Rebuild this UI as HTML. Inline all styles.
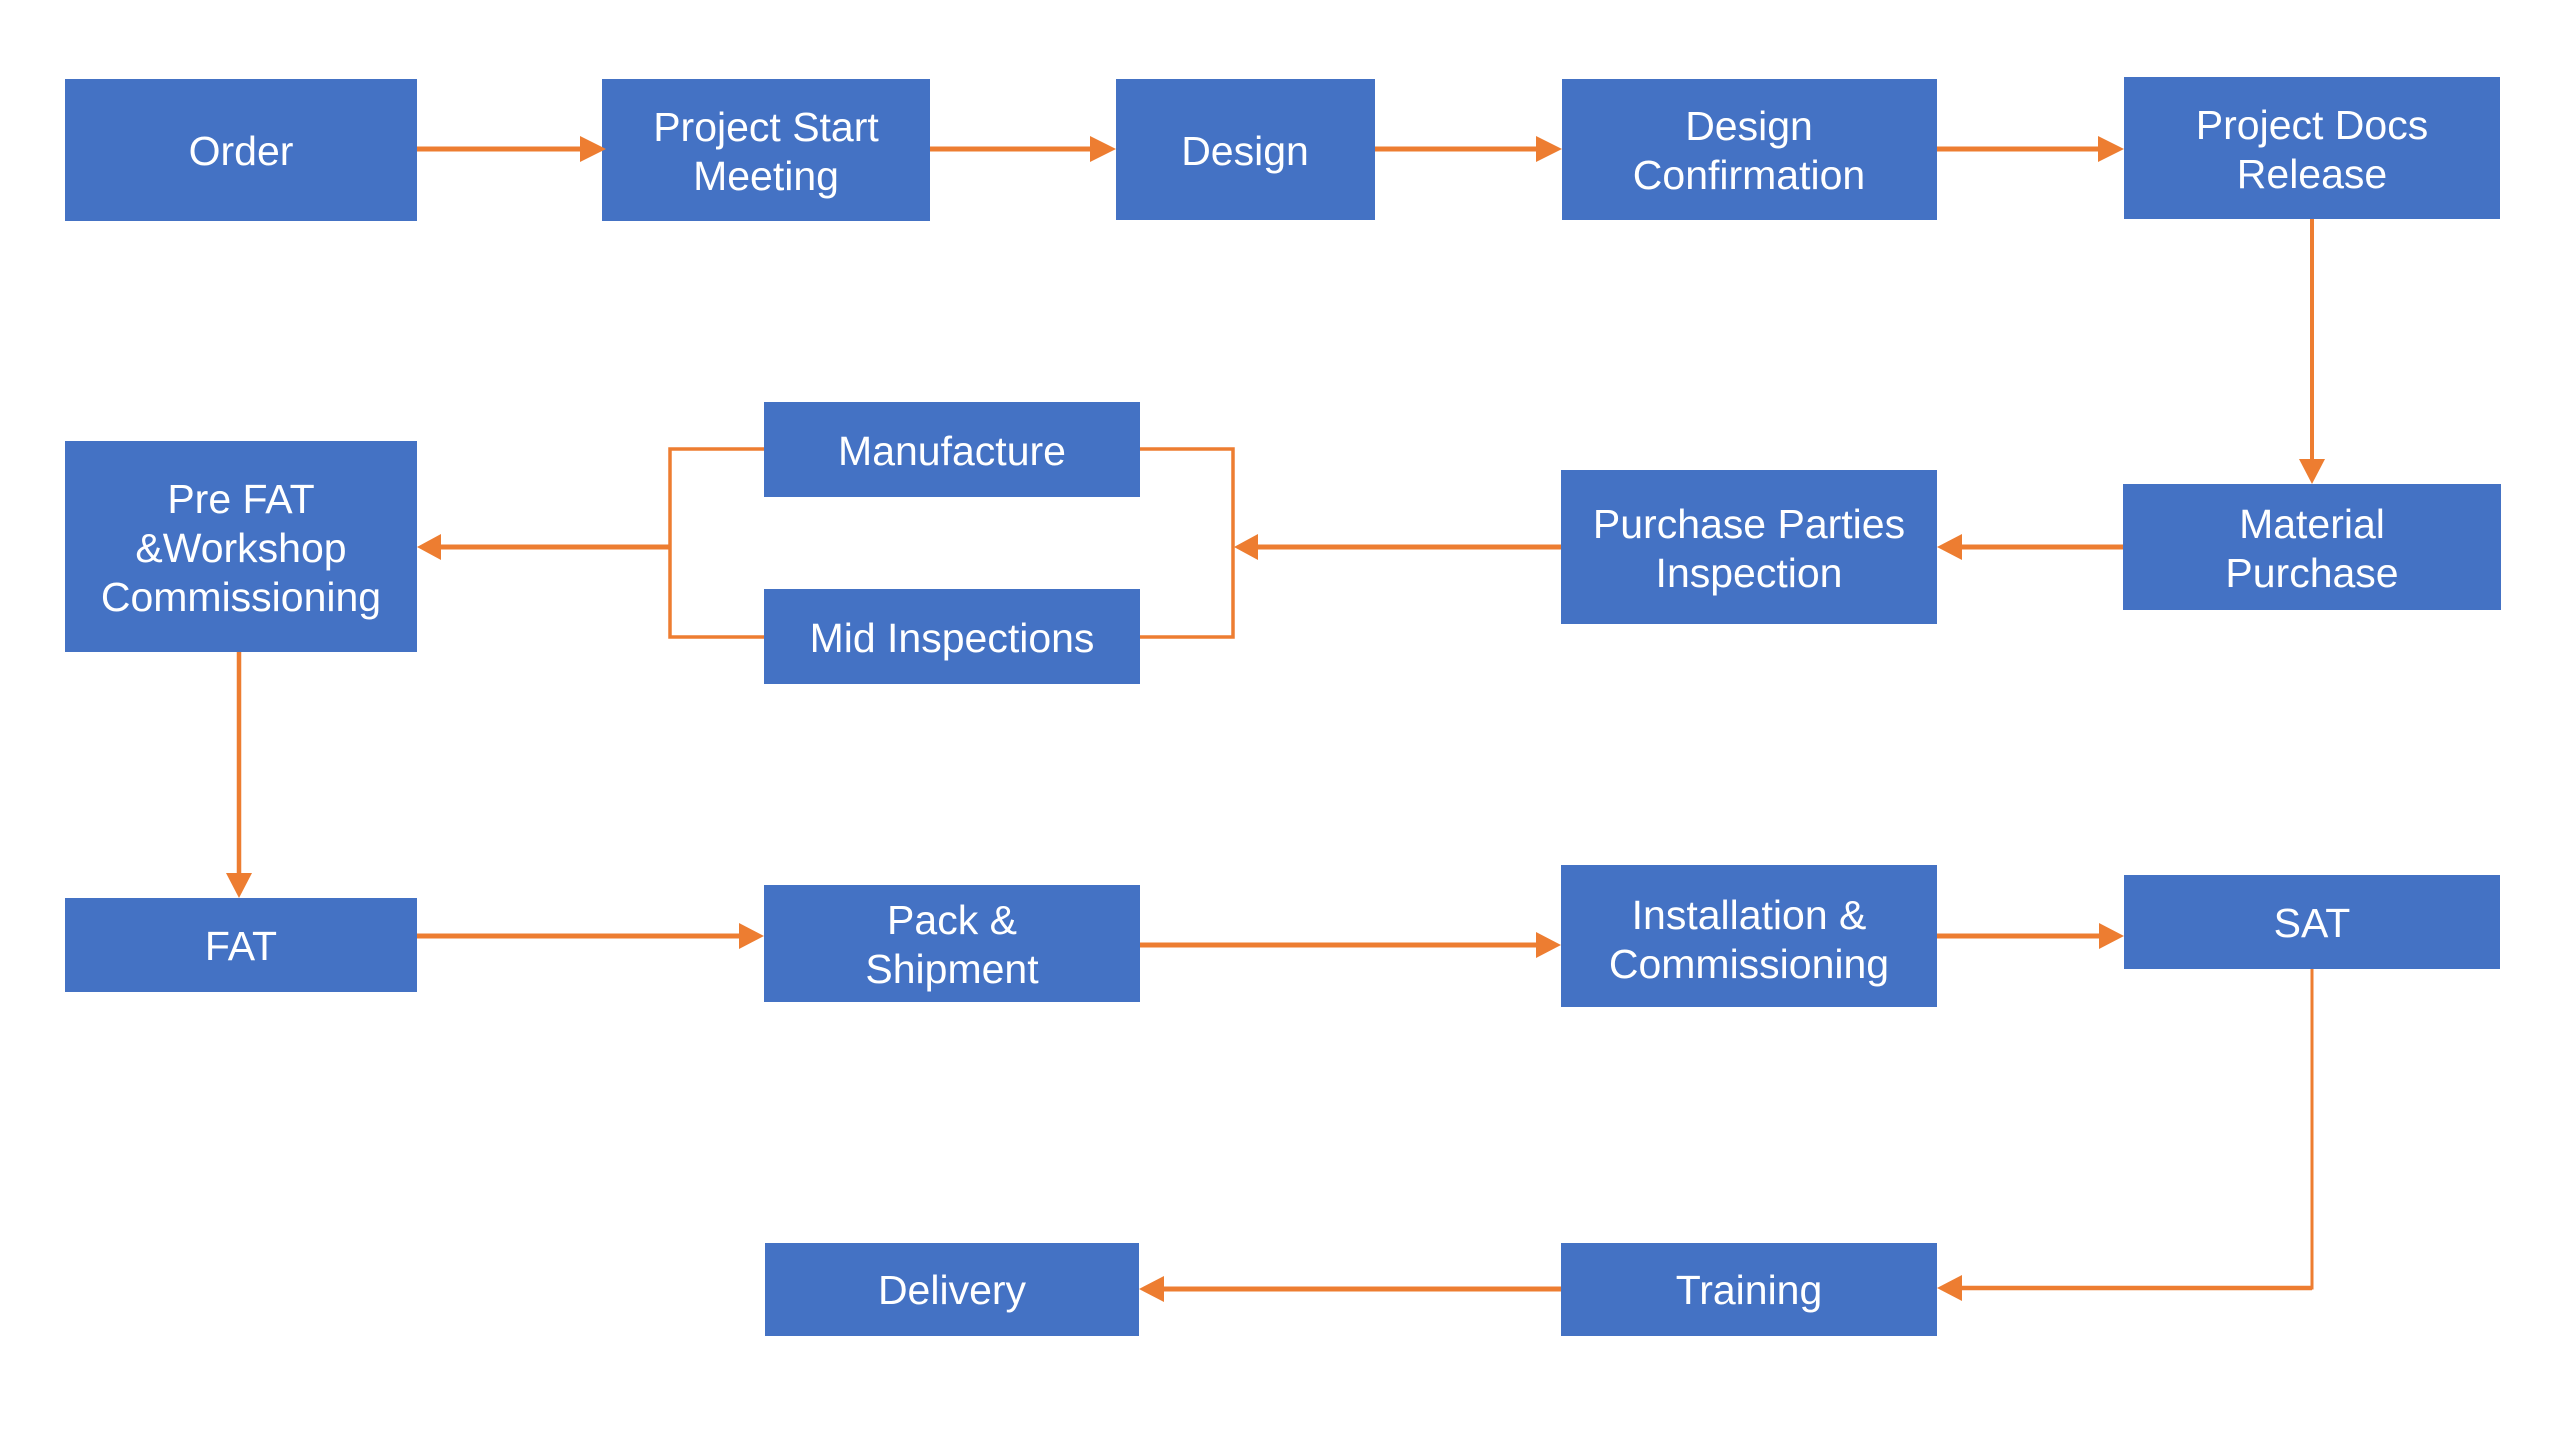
<!DOCTYPE html>
<html>
<head>
<meta charset="utf-8">
<style>
html,body{margin:0;padding:0;background:#fff;}
svg{display:block;}
text{font-family:"Liberation Sans",Arial,sans-serif;font-size:41px;fill:#fff;text-anchor:middle;}
</style>
</head>
<body>
<svg width="2560" height="1429" viewBox="0 0 2560 1429" xmlns="http://www.w3.org/2000/svg">
<rect x="0" y="0" width="2560" height="1429" fill="#fff"/>
<g fill="#4472C4">
  <rect x="65" y="79" width="352" height="142"/>
  <rect x="602" y="79" width="328" height="142"/>
  <rect x="1116" y="79" width="259" height="141"/>
  <rect x="1562" y="79" width="375" height="141"/>
  <rect x="2124" y="77" width="376" height="142"/>
  <rect x="2123" y="484" width="378" height="126"/>
  <rect x="1561" y="470" width="376" height="154"/>
  <rect x="764" y="402" width="376" height="95"/>
  <rect x="764" y="589" width="376" height="95"/>
  <rect x="65" y="441" width="352" height="211"/>
  <rect x="65" y="898" width="352" height="94"/>
  <rect x="764" y="885" width="376" height="117"/>
  <rect x="1561" y="865" width="376" height="142"/>
  <rect x="2124" y="875" width="376" height="94"/>
  <rect x="765" y="1243" width="374" height="93"/>
  <rect x="1561" y="1243" width="376" height="93"/>
</g>

<g stroke="#ED7D31" fill="none" stroke-linecap="butt">
  <!-- top row -->
  <line x1="417" y1="149" x2="582" y2="149" stroke-width="5"/>
  <line x1="930" y1="149" x2="1094" y2="149" stroke-width="5"/>
  <line x1="1375" y1="149" x2="1540" y2="149" stroke-width="5"/>
  <line x1="1937" y1="149" x2="2102" y2="149" stroke-width="5"/>
  <!-- PDR -> MP -->
  <line x1="2312" y1="219" x2="2312" y2="462" stroke-width="4"/>
  <!-- MP -> PPI -->
  <line x1="2123" y1="547" x2="1958" y2="547" stroke-width="5"/>
  <!-- PPI -> bracket -->
  <line x1="1561" y1="547" x2="1254" y2="547" stroke-width="5"/>
  <!-- right bracket -->
  <polyline points="1140,449 1233,449 1233,637 1140,637" stroke-width="3.5"/>
  <!-- left bracket -->
  <polyline points="764,449 670,449 670,637 764,637" stroke-width="3.5"/>
  <line x1="670" y1="547" x2="437" y2="547" stroke-width="5"/>
  <!-- PreFAT -> FAT -->
  <line x1="239" y1="652" x2="239" y2="876" stroke-width="4.5"/>
  <!-- FAT -> Pack -->
  <line x1="417" y1="936" x2="742" y2="936" stroke-width="5"/>
  <!-- Pack -> Install -->
  <line x1="1140" y1="945" x2="1539" y2="945" stroke-width="5"/>
  <!-- Install -> SAT -->
  <line x1="1937" y1="936" x2="2103" y2="936" stroke-width="5"/>
  <!-- SAT -> Training -->
  <polyline points="2312,969 2312,1288 1958,1288" stroke-width="3"/>
  <line x1="2312" y1="1288" x2="1958" y2="1288" stroke-width="4.5"/>
  <!-- Training -> Delivery -->
  <line x1="1561" y1="1289" x2="1159" y2="1289" stroke-width="5"/>
</g>

<g fill="#ED7D31">
  <polygon points="580,136 606,149 580,162"/>
  <polygon points="1090,136 1116,149 1090,162"/>
  <polygon points="1536,136 1562,149 1536,162"/>
  <polygon points="2098,136 2124,149 2098,162"/>
  <polygon points="2299,459 2325,459 2312,484"/>
  <polygon points="1962,534 1937,547 1962,560"/>
  <polygon points="1258,534 1234,547 1258,560"/>
  <polygon points="441,534 417,547 441,560"/>
  <polygon points="226,873 252,873 239,898"/>
  <polygon points="739,923 764,936 739,949"/>
  <polygon points="1536,932 1561,945 1536,958"/>
  <polygon points="2099,923 2124,936 2099,949"/>
  <polygon points="1962,1275 1937,1288 1962,1301"/>
  <polygon points="1164,1276 1139,1289 1164,1302"/>
</g>

<g>
  <text x="241" y="165">Order</text>
  <text x="766" y="141">Project Start</text>
  <text x="766" y="190">Meeting</text>
  <text x="1245" y="165">Design</text>
  <text x="1749" y="140">Design</text>
  <text x="1749" y="189">Confirmation</text>
  <text x="2312" y="139">Project Docs</text>
  <text x="2312" y="188">Release</text>
  <text x="2312" y="538">Material</text>
  <text x="2312" y="587">Purchase</text>
  <text x="1749" y="538">Purchase Parties</text>
  <text x="1749" y="587">Inspection</text>
  <text x="952" y="465">Manufacture</text>
  <text x="952" y="652">Mid Inspections</text>
  <text x="241" y="513">Pre FAT</text>
  <text x="241" y="562">&amp;Workshop</text>
  <text x="241" y="611">Commissioning</text>
  <text x="241" y="960">FAT</text>
  <text x="952" y="934">Pack &amp;</text>
  <text x="952" y="983">Shipment</text>
  <text x="1749" y="929">Installation &amp;</text>
  <text x="1749" y="978">Commissioning</text>
  <text x="2312" y="937">SAT</text>
  <text x="952" y="1304">Delivery</text>
  <text x="1749" y="1304">Training</text>
</g>
</svg>
</body>
</html>
